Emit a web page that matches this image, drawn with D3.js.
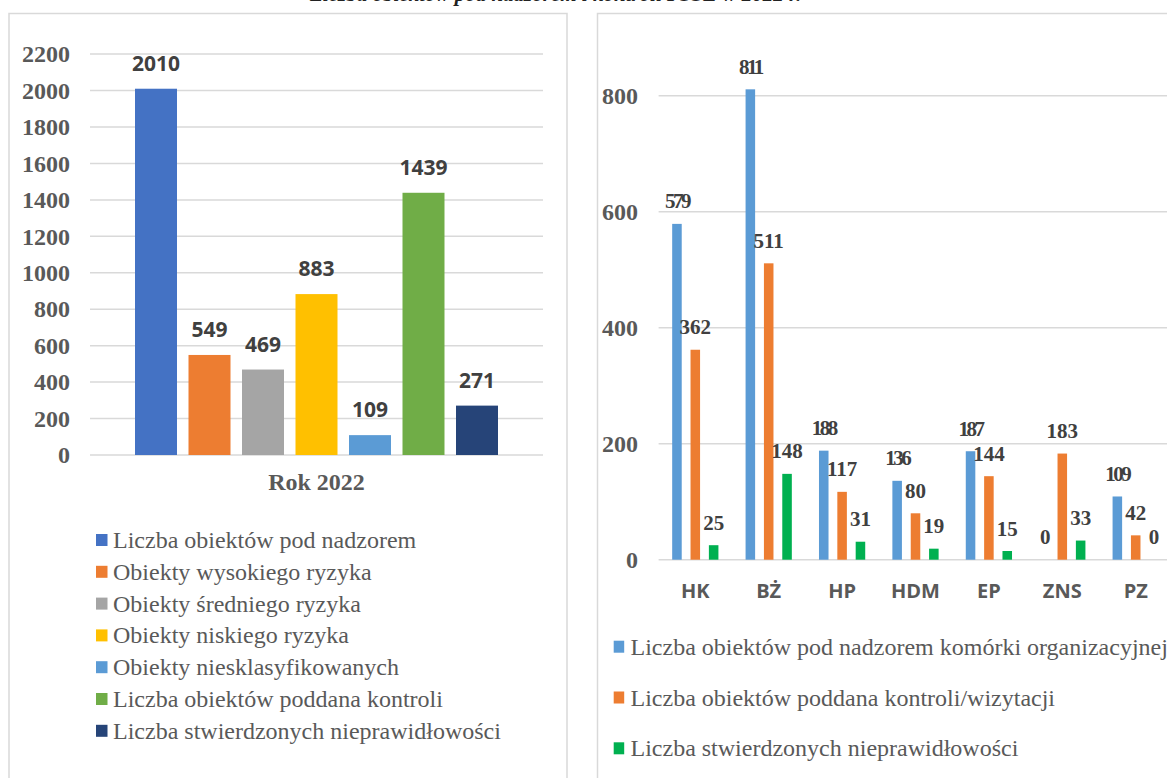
<!DOCTYPE html>
<html><head><meta charset="utf-8">
<script src="https://cdn.jsdelivr.net/npm/d3@7"></script>
<style>
html,body{margin:0;padding:0;background:#fff;overflow:hidden}
svg{display:block}
</style></head>
<body>
<svg id="c" width="1167" height="778"></svg>
<script>
// ---- data ----
const title = "Liczba obiektów pod nadzorem i kontroli PSSE w 2022 r.";
const leftCategory = ["Rok 2022"];
const leftSeries = ["Liczba obiektów pod nadzorem","Obiekty wysokiego ryzyka","Obiekty średniego ryzyka","Obiekty niskiego ryzyka","Obiekty niesklasyfikowanych","Liczba obiektów poddana kontroli","Liczba stwierdzonych nieprawidłowości"];
const leftValues = [2010, 549, 469, 883, 109, 1439, 271];
const leftColors = ["#4472C4","#ED7D31","#A5A5A5","#FFC000","#5B9BD5","#70AD47","#264478"];
const leftTicks = [0,200,400,600,800,1000,1200,1400,1600,1800,2000,2200];

const rightCategories = ["HK","BŻ","HP","HDM","EP","ZNS","PZ"];
const rightSeries = ["Liczba obiektów pod nadzorem komórki organizacyjnej","Liczba obiektów poddana kontroli/wizytacji","Liczba stwierdzonych nieprawidłowości"];
const rightSupervised = [579, 811, 188, 136, 187, 0, 109];
const rightControlled = [362, 511, 117, 80, 144, 183, 42];
const rightIrregular = [25, 148, 31, 19, 15, 33, 0];
const rightColors = ["#5B9BD5","#ED7D31","#00B050"];
const rightTicks = [0,200,400,600,800];

const svg = d3.select("#c");
const GRID = "#D9D9D9";
const SERIF = "'Liberation Serif','Times New Roman',serif";
const SANS = "'Open Sans','Liberation Sans',sans-serif";

// title (mostly cut off at top, as in the reference)
svg.append("text").attr("x",310).attr("y",0.5).attr("font-family",SERIF)
  .attr("font-weight","bold").attr("font-style","italic").attr("font-size",21)
  .attr("fill","#222").text(title);

// panel borders
svg.append("rect").attr("x",9).attr("y",13.5).attr("width",558).attr("height",800)
  .attr("fill","none").attr("stroke",GRID).attr("stroke-width",1.5);
svg.append("rect").attr("x",597.5).attr("y",13.5).attr("width",600).attr("height",800)
  .attr("fill","none").attr("stroke",GRID).attr("stroke-width",1.5);

// ---------- LEFT CHART ----------
{
  const L = {x0:90, x1:543, y0:455, y1:54.1};
  const y = d3.scaleLinear().domain([0,2200]).range([L.y0,L.y1]);
  const x0 = d3.scaleBand().domain(leftCategory).range([L.x0,L.x1]).padding(0);
  const groupW = x0.bandwidth()*0.8267;
  const x1 = d3.scaleBand().domain(leftSeries).range([0,groupW]).paddingInner(0.215).paddingOuter(0.1075);
  const g = svg.append("g");
  g.selectAll("line.grid").data(leftTicks).join("line")
    .attr("x1",L.x0).attr("x2",L.x1).attr("y1",d=>y(d)).attr("y2",d=>y(d))
    .attr("stroke",GRID).attr("stroke-width",1.5);
  const ax = g.append("g").attr("transform",`translate(${L.x0-20},0)`)
    .call(d3.axisLeft(y).tickValues(leftTicks).tickSize(0).tickPadding(0).tickFormat(d3.format("d")));
  ax.select(".domain").remove();
  ax.selectAll("text").attr("font-family",SERIF).attr("font-weight","bold").attr("font-size",24).attr("fill","#595959");
  const gx = x0(leftCategory[0]) + (x0.bandwidth()-groupW)/2;
  const data = leftSeries.map((s,i)=>({s, v:leftValues[i], c:leftColors[i]}));
  g.selectAll("rect.bar").data(data).join("rect")
    .attr("x",d=>gx+x1(d.s)).attr("width",x1.bandwidth())
    .attr("y",d=>y(d.v)).attr("height",d=>y(0)-y(d.v)).attr("fill",d=>d.c);
  g.selectAll("text.lbl").data(data).join("text")
    .attr("x",d=>gx+x1(d.s)+x1.bandwidth()/2).attr("y",d=>y(d.v)-18)
    .attr("text-anchor","middle").attr("font-family",SANS).attr("font-weight","bold")
    .attr("font-size",21).attr("fill","#404040").text(d=>d.v);
  g.append("text").attr("x",x0(leftCategory[0])+x0.bandwidth()/2).attr("y",490)
    .attr("text-anchor","middle").attr("font-family",SERIF).attr("font-weight","bold")
    .attr("font-size",24).attr("fill","#595959").text(leftCategory[0]);
  const lg = g.selectAll("g.leg").data(data).join("g")
    .attr("transform",(d,i)=>`translate(96,${540+i*31.8})`);
  lg.append("rect").attr("x",0).attr("y",-6).attr("width",11.5).attr("height",12).attr("fill",d=>d.c);
  lg.append("text").attr("x",17).attr("y",8).attr("font-family",SERIF).attr("font-size",24)
    .attr("fill","#595959").text(d=>d.s);
}

// ---------- RIGHT CHART ----------
{
  const R = {x0:658.6, step:73.4, y0:559.7, y1:95.7};
  const y = d3.scaleLinear().domain([0,800]).range([R.y0,R.y1]);
  const x0 = d3.scaleBand().domain(rightCategories).range([R.x0, R.x0+R.step*rightCategories.length]).padding(0);
  const groupW = 55.05;
  const x1 = d3.scaleBand().domain(rightSeries).range([0,groupW]).paddingInner(0.48).paddingOuter(0.24);
  const g = svg.append("g");
  g.selectAll("line.grid").data(rightTicks).join("line")
    .attr("x1",R.x0).attr("x2",1167).attr("y1",d=>y(d)).attr("y2",d=>y(d))
    .attr("stroke",GRID).attr("stroke-width",1.5);
  const ax = g.append("g").attr("transform",`translate(638,0)`)
    .call(d3.axisLeft(y).tickValues(rightTicks).tickSize(0).tickPadding(0).tickFormat(d3.format("d")));
  ax.select(".domain").remove();
  ax.selectAll("text").attr("font-family",SERIF).attr("font-weight","bold").attr("font-size",24).attr("fill","#595959");

  const vals = [rightSupervised, rightControlled, rightIrregular];
  const data = [];
  rightCategories.forEach((c,ci)=>rightSeries.forEach((s,si)=>data.push({c,s,si,v:vals[si][ci]})));
  const off = (x0.bandwidth()-groupW)/2;
  g.selectAll("rect.bar").data(data).join("rect")
    .attr("x",d=>x0(d.c)+off+x1(d.s)).attr("width",x1.bandwidth())
    .attr("y",d=>y(d.v)).attr("height",d=>y(0)-y(d.v)).attr("fill",d=>rightColors[d.si]);
  g.selectAll("text.lbl").data(data).join("text")
    .attr("x",d=>x0(d.c)+off+x1(d.s)+x1.bandwidth()/2).attr("y",d=>y(d.v)-15.5)
    .attr("text-anchor","middle").attr("font-family",SERIF).attr("font-weight","bold")
    .attr("font-size",21).attr("letter-spacing",d=>d.si===0?"-2.5px":"0px")
    .attr("fill","#404040").text(d=>d.v);
  g.selectAll("text.cat").data(rightCategories).join("text")
    .attr("x",d=>x0(d)+x0.bandwidth()/2).attr("y",598)
    .attr("text-anchor","middle").attr("font-family",SANS).attr("font-weight","bold")
    .attr("font-size",20).attr("fill","#595959").text(d=>d);
  const lg = g.selectAll("g.leg").data(rightSeries).join("g")
    .attr("transform",(d,i)=>`translate(613.7,${646.7+i*50.8})`);
  lg.append("rect").attr("x",0).attr("y",-6).attr("width",10.5).attr("height",12).attr("fill",(d,i)=>rightColors[i]);
  lg.append("text").attr("x",16.8).attr("y",8).attr("font-family",SERIF).attr("font-size",24)
    .attr("fill","#595959").text(d=>d);
}
</script>
</body></html>
